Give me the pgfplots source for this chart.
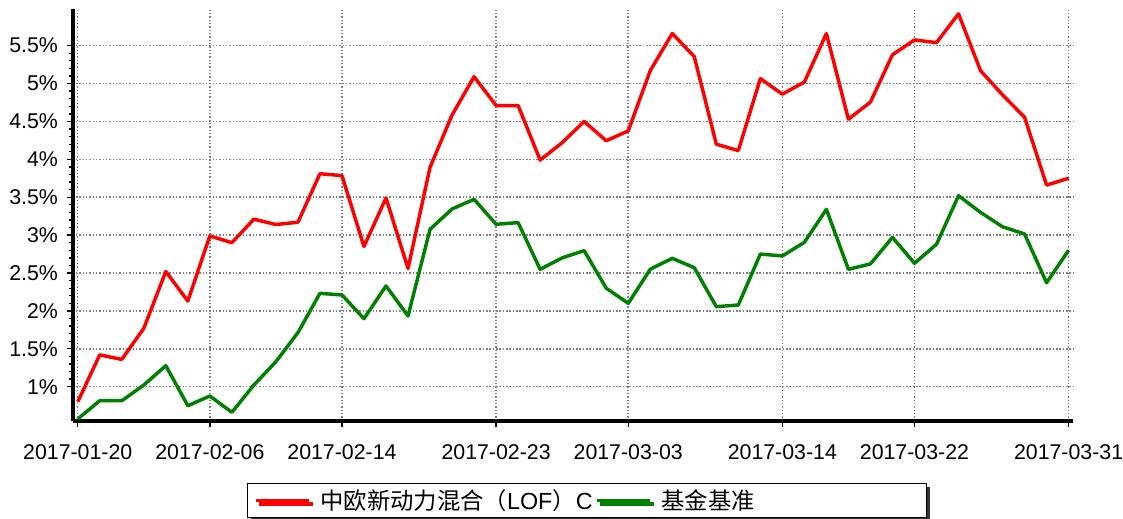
\documentclass[border=0pt]{standalone}
\usepackage{pgfplots}
\pgfplotsset{compat=1.18}
\usepackage{pgfplotstable}
\usepackage{fontspec}
\setmainfont{Liberation Sans}
\newfontfamily\cjk{Noto Sans CJK SC}
\usetikzlibrary{shadows}
\definecolor{fundred}{RGB}{255,0,0}
\definecolor{fundgreen}{RGB}{0,128,0}

\pgfplotstableread{
x y
0 0.80
1 1.42
2 1.36
3 1.77
4 2.52
5 2.13
6 2.99
7 2.90
8 3.21
9 3.14
10 3.17
11 3.81
12 3.785
13 2.85
14 3.49
15 2.56
16 3.895
17 4.585
18 5.09
19 4.71
20 4.71
21 3.99
22 4.22
23 4.50
24 4.245
25 4.375
26 5.17
27 5.66
28 5.355
29 4.20
30 4.115
31 5.065
32 4.86
33 5.02
34 5.66
35 4.53
36 4.755
37 5.38
38 5.575
39 5.54
40 5.92
41 5.17
42 4.85
43 4.555
44 3.66
45 3.75
}\fundtable

\pgfplotstableread{
x y
0 0.574
1 0.815
2 0.815
3 1.022
4 1.277
5 0.749
6 0.877
7 0.662
8 1.022
9 1.33
10 1.713
11 2.232
12 2.21
13 1.897
14 2.33
15 1.933
16 3.077
17 3.345
18 3.473
19 3.143
20 3.165
21 2.549
22 2.70
23 2.795
24 2.30
25 2.10
26 2.549
27 2.694
28 2.57
29 2.056
30 2.078
31 2.75
32 2.725
33 2.905
34 3.34
35 2.549
36 2.62
37 2.97
38 2.628
39 2.879
40 3.52
41 3.30
42 3.11
43 3.015
44 2.372
45 2.80
}\benchtable

\begin{document}
\begin{tikzpicture}
\path[use as bounding box] (-54.5pt,-72.75pt) rectangle (787.7pt,315.75pt);
\begin{axis}[
  scale only axis,
  width=750.2pt, height=308.8pt,
  xmin=-0.23, xmax=45.2,
  ymin=0.547, ymax=5.98,
  clip=false,
  axis x line*=bottom, axis y line*=left,
  axis line style={line width=3pt,-},
  tick align=outside,
  major tick length=4.5pt, minor tick length=3pt,
  tick style={black, line width=1pt},
  xtick={0,6,12,19,25,32,38,45},
  xticklabels={2017-01-20,2017-02-06,2017-02-14,2017-02-23,2017-03-03,2017-03-14,2017-03-22,2017-03-31},
  minor x tick num=3,
  ytick={1,1.5,2,2.5,3,3.5,4,4.5,5,5.5},
  yticklabels={1\%,1.5\%,2\%,2.5\%,3\%,3.5\%,4\%,4.5\%,5\%,5.5\%},
  minor y tick num=4,
  ticklabel style={font=\fontsize{16}{19}\selectfont},
  xticklabel style={yshift=-10pt},
  yticklabel style={xshift=-3pt},
  xmajorgrids, ymajorgrids,
  major grid style={gray, line width=1.1pt, dash pattern=on 1.1pt off 1.4pt},
  legend columns=3,
  legend image code/.code={\draw[#1] (0pt,0pt) -- (40pt,0pt); \path (45pt,0pt);},
  legend style={at={(0.1743,-0.1506)}, anchor=north west,
    draw=black, line width=0.8pt, fill=white,
    font=\fontsize{17.5}{21}\selectfont,
    inner xsep=5pt, inner ysep=2.5pt,
    drop shadow={shadow xshift=2.5pt, shadow yshift=-2.5pt, fill=black!80, opacity=1}},
]
\addplot[fundred, line width=2.6pt, line join=round] table[x=x,y=y] {\fundtable};
\addlegendentry{{\cjk 中欧新动力混合（}LOF{\cjk ）}C}
\addplot[fundgreen, line width=2.6pt, line join=round] table[x=x,y=y] {\benchtable};
\addlegendentry{{\cjk 基金基准}}
\addlegendimage{empty legend}
\addlegendentry{\hbox to 118pt{\hfil}}
\end{axis}
\end{tikzpicture}
\end{document}
